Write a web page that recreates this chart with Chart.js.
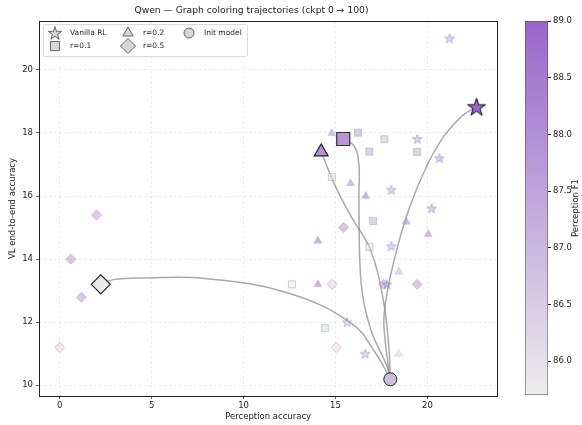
<!DOCTYPE html>
<html>
<head>
<meta charset="utf-8">
<script src="https://cdn.jsdelivr.net/npm/chart.js@4"></script>
<style>
  html, body { margin: 0; padding: 0; background: #fff; }
  #wrap { position: relative; width: 582px; height: 425px; }
  #main { position: absolute; left: 0; top: 0; }
  #cbar { position: absolute; left: 505px; top: 0; }
</style>
</head>
<body>
<div id="wrap">
  <canvas id="main" width="508" height="425"></canvas>
  <canvas id="cbar" width="77" height="425"></canvas>
</div>
<script>
const vanillaX = [21.2, 19.45, 20.65, 18.04, 20.23, 18.04, 17.8, 15.63, 16.62];
const vanillaY = [21.0, 17.81, 17.2, 16.2, 15.61, 14.41, 13.2, 12.0, 11.0];
const vanillaF1 = [87.3, 87.2, 87.6, 87.0, 87.6, 87.0, 87.4, 86.6, 86.8];

const r01X = [16.22, 17.66, 16.84, 19.44, 14.8, 17.04, 16.84, 12.63, 14.42];
const r01Y = [18.01, 17.8, 17.41, 17.4, 16.6, 15.21, 14.39, 13.2, 11.81];
const r01F1 = [87.9, 87.1, 87.5, 87.3, 86.0, 87.5, 86.3, 85.9, 86.3];

const r02X = [14.8, 15.82, 16.64, 18.84, 20.04, 14.04, 14.04, 18.44, 18.44];
const r02Y = [17.99, 16.4, 16.0, 15.18, 14.79, 14.58, 13.2, 13.6, 11.0];
const r02F1 = [87.9, 88.0, 88.2, 88.2, 88.2, 88.5, 88.3, 87.0, 86.2];

const r05X = [15.44, 14.82, 17.62, 19.44, 15.04, 2.0, 0.6, 1.18, 0.0];
const r05Y = [15.0, 13.2, 13.2, 13.2, 11.2, 15.4, 14.0, 12.79, 11.2];
const r05F1 = [88.0, 86.5, 87.8, 88.0, 86.0, 87.8, 88.0, 88.0, 86.3];

// final checkpoints + start
const initPt = { x: 17.98, y: 10.19, f: 86.9 };
const finalVanilla = { x: 22.67, y: 18.83, f: 89.0 };
const finalR01 = { x: 15.42, y: 17.81, f: 87.8 };
const finalR02 = { x: 14.22, y: 17.4, f: 87.9 };
const finalR05 = { x: 2.23, y: 13.2, f: 85.8 };

// smoothed trajectory curves
const trajVanillaX = [17.98, 17.72, 17.65, 18.2, 19.0, 20.0, 20.9, 21.9, 22.67];
const trajVanillaY = [10.19, 11.3, 12.3, 14.0, 15.6, 17.0, 17.9, 18.55, 18.83];
const trajR01X = [17.98, 17.8, 16.9, 16.4, 16.27, 16.27, 16.0, 15.42];
const trajR01Y = [10.19, 10.6, 11.8, 13.2, 15.9, 17.0, 17.6, 17.81];
const trajR02X = [17.98, 17.9, 17.6, 16.9, 15.9, 15.0, 14.22];
const trajR02Y = [10.19, 11.2, 12.7, 14.3, 15.3, 16.3, 17.4];
const trajR05X = [17.98, 17.2, 15.9, 12.5, 8.0, 4.5, 2.9, 2.23];
const trajR05Y = [10.19, 11.0, 11.95, 12.91, 13.38, 13.4, 13.35, 13.2];

const xTicks = [0, 5, 10, 15, 20];
const yTicks = [10, 12, 14, 16, 18, 20];
const f1Min = 85.7, f1Max = 89.0;

const lo = [236, 236, 236], hi = [153, 102, 204];
function f1Color(v, a) {
  const t = Math.max(0, Math.min(1, (v - f1Min) / (f1Max - f1Min)));
  const c = lo.map((l, i) => Math.round(l + (hi[i] - l) * t));
  return a == null ? `rgb(${c.join(',')})` : `rgba(${c.join(',')},${a})`;
}

function starImg(r, fill, stroke, lw) {
  const s = Math.ceil(2 * r + 2 * lw + 2);
  const c = document.createElement('canvas');
  c.width = s; c.height = s;
  const g = c.getContext('2d');
  const cx = s / 2, cy = s / 2 + r * 0.08;
  g.beginPath();
  for (let i = 0; i < 10; i++) {
    const rad = i % 2 === 0 ? r : r * 0.382;
    const ang = -Math.PI / 2 + i * Math.PI / 5;
    const px = cx + rad * Math.cos(ang), py = cy + rad * Math.sin(ang);
    i === 0 ? g.moveTo(px, py) : g.lineTo(px, py);
  }
  g.closePath();
  g.fillStyle = fill; g.fill();
  g.lineWidth = lw; g.strokeStyle = stroke; g.stroke();
  return c;
}

const pts = (xs, ys) => xs.map((x, i) => ({ x, y: ys[i] }));
const smallA = 0.5;
const trajColor = 'rgba(140,140,140,0.75)';

const trajDs = (xs, ys) => ({
  type: 'line', data: pts(xs, ys), showLine: true, tension: 0.4,
  borderColor: trajColor, borderWidth: 1.5, pointRadius: 0, order: 5
});

const datasets = [
  trajDs(trajVanillaX, trajVanillaY),
  trajDs(trajR01X, trajR01Y),
  trajDs(trajR02X, trajR02Y),
  trajDs(trajR05X, trajR05Y),
  {
    data: pts(vanillaX, vanillaY),
    pointStyle: vanillaF1.map(v => starImg(5, f1Color(v, smallA), 'rgba(76,114,196,0.55)', 0.8)),
    order: 3
  },
  {
    data: pts(r01X, r01Y), pointStyle: 'rect', pointRadius: 5,
    backgroundColor: r01F1.map(v => f1Color(v, smallA)), borderColor: 'rgba(85,170,85,0.45)', borderWidth: 0.8, order: 3
  },
  {
    data: pts(r02X, r02Y), pointStyle: 'triangle', pointRadius: 4.8,
    backgroundColor: r02F1.map(v => f1Color(v, smallA + 0.1)), borderColor: 'rgba(160,120,210,0.3)', borderWidth: 0.6, order: 3
  },
  {
    data: pts(r05X, r05Y), pointStyle: 'rectRot', pointRadius: 5,
    backgroundColor: r05F1.map(v => f1Color(v, smallA)), borderColor: 'rgba(230,100,110,0.5)', borderWidth: 0.8, order: 3
  },
  {
    data: [initPt], pointStyle: 'circle', pointRadius: 6.5,
    backgroundColor: f1Color(initPt.f), borderColor: '#222', borderWidth: 1, order: 1
  },
  {
    data: [finalVanilla], pointStyle: starImg(9.5, f1Color(finalVanilla.f), '#111', 1), order: 1
  },
  {
    data: [finalR01], pointStyle: 'rect', pointRadius: 9.2,
    backgroundColor: f1Color(finalR01.f), borderColor: '#333', borderWidth: 1.2, order: 1
  },
  {
    data: [finalR02], pointStyle: 'triangle', pointRadius: 8,
    backgroundColor: f1Color(finalR02.f), borderColor: '#222', borderWidth: 1.2, order: 1
  },
  {
    data: [finalR05], pointStyle: 'rectRot', pointRadius: 9.5,
    backgroundColor: f1Color(finalR05.f), borderColor: '#222', borderWidth: 1.2, order: 1
  }
];

const legendItems = [
  { style: 'star', label: 'Vanilla RL', col: 0, row: 0 },
  { style: 'rect', label: 'r=0.1', col: 0, row: 1, r: 6.5 },
  { style: 'triangle', label: 'r=0.2', col: 1, row: 0, r: 6 },
  { style: 'rectRot', label: 'r=0.5', col: 1, row: 1, r: 7.5 },
  { style: 'circle', label: 'Init model', col: 2, row: 0, r: 5 }
];
const legendStar = starImg(7, '#d6d6d6', '#444', 0.8);

const framePlugin = {
  id: 'frame',
  afterDatasetsDraw(chart) {
    const { ctx, chartArea: a } = chart;
    ctx.save();
    ctx.strokeStyle = '#222';
    ctx.lineWidth = 1;
    ctx.strokeRect(Math.round(a.left) + 0.5, Math.round(a.top) + 0.5,
      Math.round(a.right - a.left), Math.round(a.bottom - a.top));
    ctx.restore();
  }
};

const legendPlugin = {
  id: 'boxLegend',
  afterDraw(chart) {
    const { ctx, chartArea: a } = chart;
    const bx = a.left + 4, by = a.top + 3, bw = 204, bh = 32;
    const colX = [bx + 12, bx + 85, bx + 146];
    const rowY = [by + 9, by + 22];
    ctx.save();
    ctx.fillStyle = 'rgba(255,255,255,0.85)';
    ctx.strokeStyle = '#d0d0d0';
    ctx.lineWidth = 0.8;
    ctx.beginPath();
    ctx.roundRect(bx + 0.5, by + 0.5, bw, bh, 2);
    ctx.fill(); ctx.stroke();
    ctx.font = '7.5px "DejaVu Sans"';
    ctx.textBaseline = 'middle';
    for (const it of legendItems) {
      const x = colX[it.col], y = rowY[it.row];
      if (it.style === 'star') {
        ctx.drawImage(legendStar, x - legendStar.width / 2, y - legendStar.height / 2);
      } else {
        ctx.fillStyle = '#d6d6d6';
        ctx.strokeStyle = '#444';
        ctx.lineWidth = 0.8;
        Chart.helpers.drawPoint(ctx, { pointStyle: it.style, radius: it.r, rotation: 0, borderWidth: 0.8 }, x, y);
      }
      ctx.fillStyle = '#222';
      ctx.fillText(it.label, x + 15, y + 0.5);
    }
    ctx.restore();
  }
};

const tickFont = { family: 'DejaVu Sans', size: 8.5 };

new Chart(document.getElementById('main'), {
  type: 'scatter',
  data: { datasets },
  options: {
    responsive: false,
    animation: false,
    layout: { padding: { left: 0, right: 5, top: 0, bottom: 0 } },
    plugins: {
      legend: { display: false },
      tooltip: { enabled: false },
      title: {
        display: true,
        text: 'Qwen — Graph coloring trajectories (ckpt 0 → 100)',
        color: '#222',
        font: { family: 'DejaVu Sans', size: 9.2, weight: 'normal' },
        padding: { top: 5, bottom: 5 }
      }
    },
    scales: {
      x: {
        type: 'linear', min: -1.13, max: 23.8,
        afterBuildTicks: s => { s.ticks = xTicks.map(v => ({ value: v })); },
        afterFit: s => { s.height = 29; },
        ticks: { font: tickFont, color: '#222', padding: 2, maxRotation: 0 },
        grid: { color: 'rgba(0,0,0,0.12)', tickColor: '#222', tickLength: 3, tickBorderDash: [], lineWidth: 0.7 },
        border: { display: false, dash: [2.5, 2.5] },
        title: { display: true, text: 'Perception accuracy', color: '#222', font: tickFont, padding: { top: 1, bottom: 3.5 } }
      },
      y: {
        type: 'linear', min: 9.66, max: 21.55,
        afterBuildTicks: s => { s.ticks = yTicks.map(v => ({ value: v })); },
        afterFit: s => { s.width = 39; },
        ticks: { font: tickFont, color: '#222', padding: 3 },
        grid: { color: 'rgba(0,0,0,0.12)', tickColor: '#222', tickLength: 3, tickBorderDash: [], lineWidth: 0.7 },
        border: { display: false, dash: [2.5, 2.5] },
        title: { display: true, text: 'VL end-to-end accuracy', color: '#222', font: tickFont, padding: { top: 7.5, bottom: 0 } }
      }
    }
  },
  plugins: [framePlugin, legendPlugin]
});

// colorbar
const cbTitlePlugin = {
  id: 'cbTitle',
  afterDraw(chart) {
    const { ctx, chartArea: a } = chart;
    ctx.save();
    ctx.translate(71, (a.top + a.bottom) / 2);
    ctx.rotate(-Math.PI / 2);
    ctx.font = '8.5px "DejaVu Sans"';
    ctx.fillStyle = '#222';
    ctx.textAlign = 'center';
    ctx.textBaseline = 'middle';
    ctx.fillText('Perception F1', 0, 0);
    ctx.restore();
  }
};

new Chart(document.getElementById('cbar'), {
  type: 'bar',
  data: {
    labels: [''],
    datasets: [{
      data: [[f1Min, f1Max]],
      backgroundColor: c => {
        const a = c.chart.chartArea;
        if (!a) return f1Color(87.3);
        const g = c.chart.ctx.createLinearGradient(0, a.bottom, 0, a.top);
        g.addColorStop(0, f1Color(f1Min));
        g.addColorStop(1, f1Color(f1Max));
        return g;
      },
      borderColor: '#444', borderWidth: 0.8, borderSkipped: false,
      barPercentage: 1, categoryPercentage: 1
    }]
  },
  options: {
    responsive: false,
    animation: false,
    layout: { padding: { left: 20, right: 0, top: 21, bottom: 30 } },
    plugins: { legend: { display: false }, tooltip: { enabled: false } },
    scales: {
      x: { display: false },
      y: {
        position: 'right', min: f1Min, max: f1Max,
        afterFit: s => { s.width = 34; },
        ticks: { stepSize: 0.5, includeBounds: false, font: tickFont, color: '#222', padding: 2, callback: v => v.toFixed(1) },
        grid: { drawOnChartArea: false, tickColor: '#222', tickLength: 3 },
        border: { display: false }
      }
    }
  },
  plugins: [cbTitlePlugin]
});
</script>
</body>
</html>
